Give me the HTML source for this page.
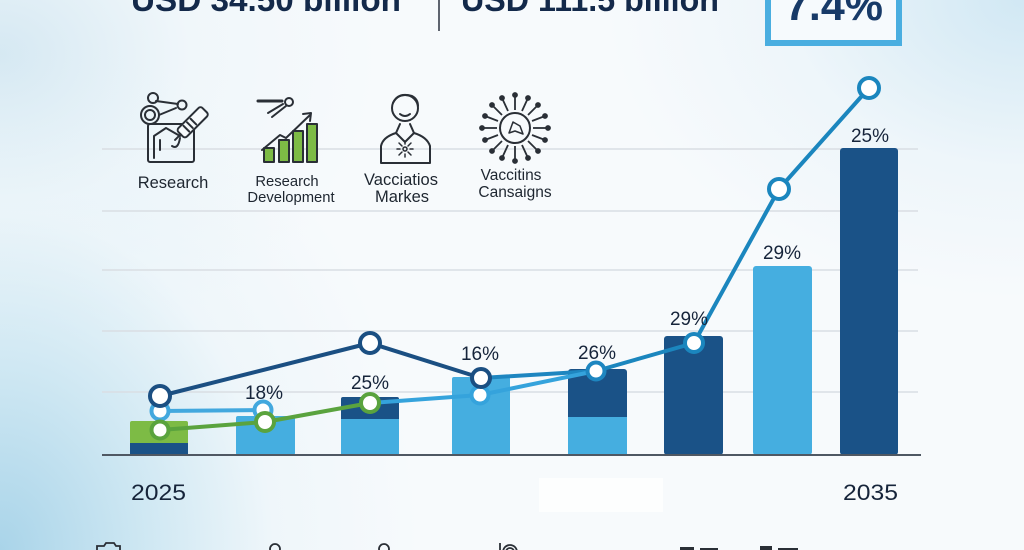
<!DOCTYPE html>
<html>
<head>
<meta charset="utf-8">
<style>
  html,body{margin:0;padding:0;}
  body{width:1024px;height:550px;overflow:hidden;position:relative;
    background:
      radial-gradient(ellipse 420px 520px at 0% 100%, rgba(165,210,232,0.95) 0%, rgba(190,224,239,0.7) 35%, rgba(220,238,246,0.3) 65%, rgba(255,255,255,0) 100%),
      radial-gradient(ellipse 380px 300px at 0% 10%, rgba(205,228,240,0.8) 0%, rgba(230,242,248,0.4) 50%, rgba(255,255,255,0) 100%),
      radial-gradient(ellipse 420px 300px at 100% 0%, rgba(205,230,243,0.9) 0%, rgba(228,241,248,0.5) 55%, rgba(255,255,255,0) 100%),
      #f7fafc;
    font-family:"Liberation Sans", sans-serif;}
  svg{position:absolute;left:0;top:0;}
</style>
</head>
<body>
<svg width="1024" height="550" viewBox="0 0 1024 550" xmlns="http://www.w3.org/2000/svg">
  <!-- header -->
  <text x="131" y="11" font-family="Liberation Sans, sans-serif" font-weight="bold" font-size="33" fill="#13294a" textLength="270" lengthAdjust="spacingAndGlyphs">USD 34.50 billion</text>
  <line x1="439" y1="0" x2="439" y2="31" stroke="#2a3340" stroke-width="1.5"/>
  <text x="461" y="11" font-family="Liberation Sans, sans-serif" font-weight="bold" font-size="33" fill="#13294a" textLength="258" lengthAdjust="spacingAndGlyphs">USD 111.5 billion</text>
  <rect x="768" y="-10" width="131" height="53" fill="#f6fafd" stroke="#4aaee0" stroke-width="6"/>
  <text x="785" y="20" font-family="Liberation Sans, sans-serif" font-weight="bold" font-size="44" fill="#173a68" textLength="98" lengthAdjust="spacingAndGlyphs">7.4%</text>

  <!-- gridlines -->
  <g stroke="#d9dee3" stroke-width="1.5">
    <line x1="102" y1="149" x2="918" y2="149"/>
    <line x1="102" y1="211" x2="918" y2="211"/>
    <line x1="102" y1="270" x2="918" y2="270"/>
    <line x1="102" y1="331" x2="918" y2="331"/>
    <line x1="102" y1="392" x2="918" y2="392"/>
  </g>

  <!-- icons -->
  <g fill="none" stroke="#2a2f36" stroke-width="2" stroke-linecap="round" stroke-linejoin="round">
    <!-- research -->
    <rect x="148" y="124" width="46" height="38" rx="2"/>
    <path d="M154 158 L154 136 L166 128 L180 136"/>
    <line x1="160" y1="140" x2="160" y2="150"/>
    <circle cx="150" cy="115" r="9"/>
    <circle cx="150" cy="115" r="5"/>
    <circle cx="153" cy="98" r="5"/>
    <circle cx="182" cy="105" r="4.5"/>
    <path d="M156 101 L178 104"/>
    <path d="M159 115 L176 108"/>
    <g transform="rotate(-45 192 123)">
      <rect x="176" y="117" width="34" height="12" rx="3" fill="#f7fafc"/>
      <line x1="184" y1="119" x2="184" y2="127"/><line x1="189" y1="119" x2="189" y2="127"/><line x1="194" y1="119" x2="194" y2="127"/>
      <line x1="176" y1="123" x2="168" y2="123"/>
    </g>
    <path d="M180 138 Q178 150 172 146"/>
    <!-- development -->
    <line x1="258" y1="101" x2="282" y2="101" stroke-width="3"/>
    <circle cx="289" cy="102" r="4"/>
    <path d="M286 106 L272 117 M283 104 L268 113"/>
    <path d="M262 150 L280 135 L286 138 L310 115"/>
    <path d="M303 114 L311 113 L310 121"/>
    <g fill="#7dbb45">
      <rect x="264" y="148" width="10" height="14"/>
      <rect x="279" y="140" width="10" height="22"/>
      <rect x="293" y="131" width="10" height="31"/>
      <rect x="307" y="124" width="10" height="38"/>
    </g>
    <!-- person -->
    <circle cx="405" cy="108" r="13"/>
    <path d="M393 103 Q398 92 412 96 Q418 99 418 106"/>
    <path d="M400 114 Q405 118 410 114"/>
    <path d="M381 163 L381 146 Q383 137 396 133 L405 142 L414 133 Q427 137 430 146 L430 163 Z"/>
    <path d="M396 133 L400 124 M414 133 L410 124"/>
    <g stroke-width="1.5"><circle cx="405" cy="149" r="2"/><path d="M399 143 l3 3 M411 143 l-3 3 M399 155 l3 -3 M411 155 l-3 -3 M405 141 v3 M405 157 v-3 M397 149 h3 M413 149 h-3"/></g>
    <!-- virus -->
    <circle cx="515" cy="128" r="15"/>
    <path d="M509 133 L513 122 L520 126 L523 134 L515 131 Z" stroke-width="1.5"/>
  </g>
  <g stroke="#2a2f36" stroke-width="1.8" fill="#2a2f36">
    <line x1="515" y1="110" x2="515" y2="95"/><circle cx="515" cy="95" r="2"/>
    <line x1="515" y1="146" x2="515" y2="161"/><circle cx="515" cy="161" r="2"/>
    <line x1="497" y1="128" x2="482" y2="128"/><circle cx="482" cy="128" r="2"/>
    <line x1="533" y1="128" x2="548" y2="128"/><circle cx="548" cy="128" r="2"/>
    <line x1="528" y1="115" x2="538" y2="105"/><circle cx="538" cy="105" r="2"/>
    <line x1="502" y1="115" x2="492" y2="105"/><circle cx="492" cy="105" r="2"/>
    <line x1="528" y1="141" x2="538" y2="151"/><circle cx="538" cy="151" r="2"/>
    <line x1="502" y1="141" x2="492" y2="151"/><circle cx="492" cy="151" r="2"/>
    <line x1="522" y1="111" x2="528" y2="98"/><circle cx="528" cy="98" r="2"/>
    <line x1="508" y1="111" x2="502" y2="98"/><circle cx="502" cy="98" r="2"/>
    <line x1="522" y1="145" x2="528" y2="158"/><circle cx="528" cy="158" r="2"/>
    <line x1="508" y1="145" x2="502" y2="158"/><circle cx="502" cy="158" r="2"/>
    <line x1="532" y1="121" x2="545" y2="116"/><circle cx="545" cy="116" r="2"/>
    <line x1="498" y1="121" x2="485" y2="116"/><circle cx="485" cy="116" r="2"/>
    <line x1="532" y1="135" x2="545" y2="140"/><circle cx="545" cy="140" r="2"/>
    <line x1="498" y1="135" x2="485" y2="140"/><circle cx="485" cy="140" r="2"/>
  </g>

  <!-- icon labels -->
  <g font-family="Liberation Sans, sans-serif" fill="#1e2630" text-anchor="middle">
    <text x="173" y="188" font-size="16.5">Research</text>
    <text x="287" y="186" font-size="14.8">Research</text>
    <text x="291" y="202" font-size="14.8">Development</text>
    <text x="401" y="185" font-size="16.5">Vacciatios</text>
    <text x="402" y="202" font-size="16.5">Markes</text>
    <text x="511" y="180" font-size="15.5">Vaccitins</text>
    <text x="515" y="197" font-size="15.5">Cansaigns</text>
  </g>

  <!-- bars -->
  <g>
    <rect x="130" y="421" width="58" height="34" rx="2" fill="#7dbb45"/>
    <rect x="130" y="443" width="58" height="12" fill="#1a5287"/>
    <rect x="236" y="416" width="59" height="39" rx="2" fill="#45aee0"/>
    <rect x="341" y="397" width="58" height="58" rx="2" fill="#1a5287"/>
    <rect x="341" y="419" width="58" height="36" fill="#45aee0"/>
    <rect x="452" y="377" width="58" height="78" rx="2" fill="#45aee0"/>
    <rect x="568" y="369" width="59" height="86" rx="3" fill="#1a5287"/>
    <rect x="568" y="417" width="59" height="38" fill="#45aee0"/>
    <rect x="664" y="336" width="59" height="119" rx="3" fill="#1a5287"/>
    <rect x="753" y="266" width="59" height="189" rx="3" fill="#45aee0"/>
    <rect x="840" y="148" width="58" height="307" rx="3" fill="#1a5287"/>
  </g>
  <line x1="102" y1="455" x2="921" y2="455" stroke="#4f5863" stroke-width="2"/>

  <!-- lines -->
  <g fill="none" stroke-width="4" stroke-linejoin="round" stroke-linecap="round">
    <polyline points="160,396 370,343 481,378" stroke="#1b4f82"/>
    <polyline points="481,378 596,371" stroke="#1e86c0"/>
    <polyline points="160,411 263,410" stroke="#42a8de"/>
    <polyline points="370,403 480,395 596,371" stroke="#35a3dc"/>
    <polyline points="596,371 694,343 779,189 869,88" stroke="#1b86be"/>
    <polyline points="160,430 265,422 370,403" stroke="#5aa33e"/>
  </g>
  <g fill="#ffffff" stroke-width="4">
    <circle cx="160" cy="411" r="8.5" stroke="#42a8de"/>
    <circle cx="160" cy="396" r="10" stroke="#1b4f82"/>
    <circle cx="160" cy="430" r="8.5" stroke="#5aa33e"/>
    <circle cx="263" cy="410" r="8.5" stroke="#42a8de"/>
    <circle cx="265" cy="422" r="9" stroke="#5aa33e"/>
    <circle cx="370" cy="343" r="10" stroke="#1b4f82"/>
    <circle cx="370" cy="403" r="9" stroke="#5aa33e"/>
    <circle cx="480" cy="395" r="8.5" stroke="#35a3dc"/>
    <circle cx="481" cy="378" r="9" stroke="#1b4f82"/>
    <circle cx="596" cy="371" r="8.5" stroke="#1e86c0"/>
    <circle cx="694" cy="343" r="9" stroke="#1b86be"/>
    <circle cx="779" cy="189" r="10" stroke="#1b86be"/>
    <circle cx="869" cy="88" r="10" stroke="#1b86be"/>
  </g>

  <!-- value labels -->
  <g font-family="Liberation Sans, sans-serif" fill="#16243a" font-size="19" text-anchor="middle">
    <text x="264" y="399">18%</text>
    <text x="370" y="389">25%</text>
    <text x="480" y="360">16%</text>
    <text x="597" y="359">26%</text>
    <text x="689" y="325">29%</text>
    <text x="782" y="259">29%</text>
    <text x="870" y="142">25%</text>
  </g>

  <!-- year labels -->
  <rect x="539" y="478" width="124" height="34" fill="#ffffff" opacity="0.7"/>
  <g font-family="Liberation Sans, sans-serif" fill="#16243a" font-size="22">
    <text x="131" y="500" textLength="55" lengthAdjust="spacingAndGlyphs">2025</text>
    <text x="843" y="500" textLength="55" lengthAdjust="spacingAndGlyphs">2035</text>
  </g>

  <!-- bottom partial icons -->
  <g fill="none" stroke="#2a2f36" stroke-width="1.8">
    <path d="M97 552 L97 546 L104 546 L106 543 L114 543 L116 546 L120 546 L120 552"/>
    <circle cx="275" cy="549" r="5"/>
    <circle cx="384" cy="549" r="5"/>
    <path d="M500 552 L500 543"/>
    <circle cx="510" cy="552" r="7"/>
    <circle cx="510" cy="552" r="4"/>
  </g>
  <g fill="#2a2f36">
    <rect x="680" y="547" width="14" height="3"/>
    <rect x="700" y="548" width="18" height="2"/>
    <rect x="760" y="546" width="12" height="4"/>
    <rect x="778" y="548" width="20" height="2"/>
  </g>
</svg>
</body>
</html>
